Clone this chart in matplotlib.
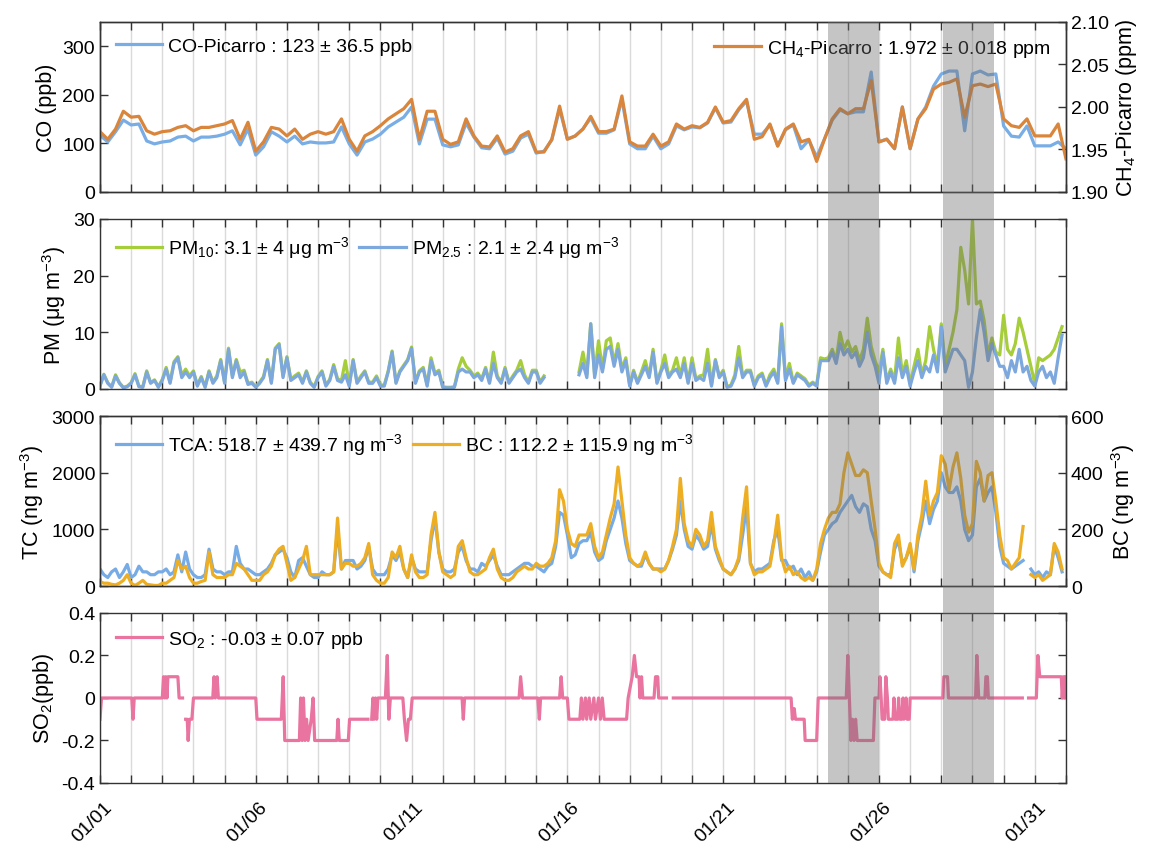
import numpy as np
import matplotlib
matplotlib.use('Agg')
import matplotlib.pyplot as plt
from matplotlib.patches import Rectangle
from matplotlib.ticker import FormatStrFormatter
from matplotlib.transforms import blended_transform_factory, ScaledTranslation

plt.rcParams['font.family'] = ['Liberation Sans', 'DejaVu Sans']
plt.rcParams['mathtext.default'] = 'regular'
plt.rcParams['axes.unicode_minus'] = False

nan = np.nan

# CO (ppb) and CH4 (ppm), 6-hourly from 01/01 00:00
co = [117, 103, 124, 148, 138, 140, 105, 99, 103, 105, 113, 115, 105, 113, 113, 115,
      119, 126, 97, 130, 76, 93, 124, 115, 103, 115, 99, 103, 101, 101, 103, 134,
      99, 76, 103, 109, 119, 134, 144, 154, 175, 99, 150, 150, 97, 93, 97, 142,
      113, 91, 89, 111, 78, 84, 111, 119, 80, 84, 107, 171, 109, 115, 130, 152,
      121, 121, 128, 191, 99, 89, 89, 115, 89, 99, 136, 128, 134, 132, 142, 173,
      142, 144, 169, 187, 119, 119, 138, 95, 128, 138, 89, 107, 72, 109, 148, 169,
      161, 165, 165, 247, 103, 109, 89, 175, 89, 150, 175, 218, 243, 249, 249, 126,
      243, 249, 241, 243, 136, 115, 113, 136, 95, 95, 95, 103, 89]
ch4 = [1.971, 1.962, 1.974, 1.995, 1.988, 1.989, 1.972, 1.968, 1.971, 1.972, 1.976, 1.978,
       1.972, 1.976, 1.976, 1.978, 1.980, 1.984, 1.962, 1.982, 1.948, 1.959, 1.976, 1.974,
       1.966, 1.974, 1.962, 1.968, 1.971, 1.968, 1.971, 1.986, 1.962, 1.948, 1.966, 1.971,
       1.978, 1.986, 1.992, 1.998, 2.009, 1.962, 1.995, 1.995, 1.962, 1.956, 1.959, 1.986,
       1.966, 1.954, 1.953, 1.966, 1.947, 1.951, 1.966, 1.971, 1.947, 1.947, 1.962, 2.001,
       1.962, 1.966, 1.974, 1.989, 1.971, 1.971, 1.974, 2.013, 1.959, 1.954, 1.954, 1.968,
       1.954, 1.959, 1.980, 1.974, 1.978, 1.976, 1.982, 2.000, 1.982, 1.984, 1.998, 2.009,
       1.962, 1.965, 1.980, 1.954, 1.974, 1.980, 1.959, 1.962, 1.936, 1.962, 1.986, 1.998,
       1.992, 1.998, 1.998, 2.031, 1.959, 1.962, 1.951, 2.000, 1.951, 1.986, 1.998, 2.021,
       2.027, 2.029, 2.033, 1.988, 2.025, 2.027, 2.024, 2.027, 1.986, 1.978, 1.976, 1.986,
       1.966, 1.966, 1.966, 1.980, 1.939]

# PM (ug m-3), 3-hourly, one row per day
pm10 = [
    0.6, 2.6, 1.1, 0.4, 2.5, 1.1, 0.3, 0.5,
    1.1, 2.7, 0.5, 0.4, 3.2, 1.1, 1.6, 0.4,
    1.7, 3.8, 1.2, 4.8, 5.7, 2.4, 3.5, 2.3,
    3.2, 0.7, 2.2, 0.4, 3.2, 1.2, 2.3, 5.2,
    1.2, 7.2, 2.3, 5.2, 3.0, 3.3, 1.0, 1.2,
    0.4, 1.2, 2.2, 5.2, 1.2, 7.2, 8.0, 2.3,
    5.7, 1.7, 2.3, 2.8, 1.2, 3.2, 1.2, 0.4,
    2.2, 3.2, 0.7, 1.7, 4.3, 1.8, 1.5, 5.0,
    0.7, 5.2, 1.2, 2.3, 3.2, 1.2, 1.2, 2.3,
    0.7, 0.7, 3.2, 6.7, 1.2, 3.2, 4.2, 5.2,
    7.4, 1.2, 3.2, 3.8, 0.7, 5.5, 2.8, 3.3,
    0.4, 0.3, 0.3, 0.4, 3.5, 5.5, 4.0, 3.3,
    2.3, 2.8, 1.8, 3.8, 1.2, 6.5, 2.3, 1.2,
    3.8, 1.2, 2.3, 3.3, 5.0, 2.5, 1.2, 3.3,
    3.3, 1.2, 2.3, nan, nan, nan, nan, nan,
    nan, nan, nan, 3.0, 6.5, 2.5, 11.5, 2.5,
    8.5, 3.5, 8.5, 9.0, 4.5, 8.0, 3.5, 5.5,
    0.7, 3.3, 1.2, 3.0, 5.0, 2.3, 7.0, 1.2,
    3.3, 6.0, 2.3, 3.3, 5.5, 2.3, 5.5, 1.2,
    5.5, 1.8, 2.3, 2.5, 7.0, 0.7, 5.2, 2.3,
    3.3, 0.4, 0.7, 2.5, 7.5, 2.3, 3.3, 3.3,
    0.7, 2.3, 2.8, 0.7, 2.5, 3.5, 1.2, 11.5,
    1.8, 4.5, 1.2, 2.8, 2.3, 1.8, 0.7, 1.2,
    0.7, 5.5, 5.3, 5.5, 7.0, 5.0, 10.0, 7.0,
    8.5, 6.5, 7.5, 5.0, 7.0, 12.5, 7.5, 5.0,
    3.0, 7.0, 1.5, 3.5, 1.5, 9.0, 2.5, 5.0,
    1.0, 4.0, 7.0, 2.5, 5.0, 11.0, 7.0, 4.0,
    11.5, 4.0, 7.0, 10.0, 14.0, 25.0, 21.0, 15.0,
    30.0, 15.0, 15.5, 12.0, 6.0, 9.0, 6.5, 6.0,
    13.0, 7.0, 6.0, 8.0, 12.5, 10.0, 7.0, 4.0,
    1.0, 5.5, 5.0, 5.5, 6.0, 7.0, 9.0, 11.0]
pm25 = [
    0.5, 2.5, 1.0, 0.3, 2.3, 1.0, 0.2, 0.4,
    1.0, 2.5, 0.4, 0.3, 3.0, 1.0, 1.5, 0.3,
    1.5, 3.5, 1.0, 4.5, 5.5, 2.0, 3.0, 2.0,
    3.0, 0.5, 2.0, 0.3, 3.0, 1.0, 2.0, 5.0,
    1.0, 7.0, 2.0, 5.0, 2.0, 3.0, 0.8, 1.0,
    0.3, 1.0, 2.0, 5.0, 1.0, 7.0, 7.8, 2.0,
    5.5, 1.5, 2.0, 2.5, 1.0, 3.0, 1.0, 0.3,
    2.0, 3.0, 0.5, 1.5, 4.0, 1.5, 1.2, 2.5,
    0.5, 5.0, 1.0, 2.0, 3.0, 1.0, 1.0, 2.0,
    0.5, 0.5, 3.0, 6.5, 1.0, 3.0, 4.0, 5.0,
    7.2, 1.0, 3.0, 3.5, 0.5, 5.0, 2.5, 3.0,
    0.3, 0.2, 0.2, 0.3, 3.0, 3.5, 3.0, 3.0,
    2.0, 2.5, 1.5, 3.5, 1.0, 4.5, 2.0, 1.0,
    3.5, 1.0, 2.0, 3.0, 3.5, 2.0, 1.0, 3.0,
    3.0, 1.0, 2.0, nan, nan, nan, nan, nan,
    nan, nan, nan, 2.5, 4.5, 2.0, 11.5, 2.0,
    6.0, 3.0, 7.0, 7.5, 4.0, 7.0, 3.0, 5.0,
    0.5, 3.0, 1.0, 2.5, 4.0, 2.0, 6.5, 1.0,
    3.0, 4.5, 2.0, 3.0, 3.5, 2.0, 4.5, 1.0,
    4.5, 1.5, 2.0, 1.5, 4.5, 0.5, 5.0, 2.0,
    3.0, 0.3, 0.5, 2.0, 5.5, 2.0, 3.0, 3.0,
    0.5, 2.0, 2.5, 0.5, 2.0, 3.0, 1.0, 11.0,
    1.5, 3.5, 1.0, 2.5, 2.0, 1.5, 0.5, 1.0,
    0.5, 5.0, 5.0, 5.0, 6.5, 4.5, 8.0, 6.0,
    7.0, 5.5, 6.5, 4.0, 5.5, 10.0, 6.0, 4.0,
    1.0, 6.5, 1.0, 3.0, 1.0, 5.5, 2.0, 4.0,
    0.5, 3.0, 5.0, 2.0, 4.0, 3.0, 6.0, 3.0,
    11.0, 3.0, 5.0, 7.0, 7.0, 6.0, 5.0, 0.3,
    3.0, 9.0, 14.0, 10.0, 5.0, 8.0, 6.0, 4.0,
    4.0, 2.0, 5.0, 3.0, 7.0, 3.0, 4.0, 1.5,
    0.5, 3.0, 4.0, 2.0, 3.0, 1.0, 5.5, 9.5]

# total carbonaceous aerosol and black carbon (ng m-3), 3-hourly
tca = [
    300, 200, 150, 250, 300, 150, 250, 380,
    150, 200, 350, 250, 250, 200, 200, 250,
    250, 300, 200, 250, 550, 250, 600, 300,
    200, 150, 150, 200, 650, 300, 250, 250,
    200, 250, 250, 700, 400, 300, 300, 250,
    200, 200, 250, 300, 400, 550, 600, 650,
    500, 250, 150, 450, 500, 350, 200, 150,
    150, 250, 200, 200, 250, 1000, 300, 450,
    450, 450, 300, 350, 450, 700, 300, 200,
    200, 200, 300, 550, 450, 600, 300, 150,
    500, 300, 250, 250, 250, 800, 1200, 600,
    300, 250, 250, 300, 600, 700, 450, 300,
    300, 250, 400, 350, 450, 550, 350, 200,
    200, 200, 250, 300, 350, 400, 400, 350,
    350, 300, 250, 350, 400, 700, 1300, 1250,
    900, 500, 550, 750, 800, 800, 950, 600,
    450, 500, 800, 1000, 1200, 1500, 1200, 750,
    450, 400, 350, 350, 550, 400, 300, 300,
    300, 300, 450, 650, 900, 1500, 1000, 700,
    650, 900, 800, 650, 700, 1100, 650, 450,
    300, 250, 200, 300, 450, 900, 1400, 400,
    250, 300, 300, 350, 400, 800, 1000, 450,
    450, 300, 350, 200, 300, 150, 250, 100,
    250, 600, 900, 1000, 1100, 1150, 1300, 1400,
    1500, 1600, 1400, 1300, 1450, 1400, 1000, 800,
    350, 250, 200, 200, 650, 800, 400, 500,
    700, 250, 800, 1100, 1500, 1100, 1350, 1500,
    2000, 1750, 1650, 1650, 1750, 1500, 1000, 800,
    900, 1750, 1900, 1500, 1650, 1750, 1300, 700,
    400, 350, 300, 350, 400, 450, nan, 300,
    200, 250, 150, 250, 200, 700, 500, 250]
bc = [
    16, 10, 10, 6, 4, 10, 20, 40,
    10, 2, 10, 20, 6, 4, 2, 2,
    10, 10, 20, 30, 90, 60, 70, 30,
    10, 10, 16, 20, 120, 40, 30, 30,
    30, 40, 40, 80, 70, 60, 40, 20,
    20, 20, 40, 50, 70, 110, 130, 140,
    80, 20, 30, 60, 90, 140, 40, 40,
    40, 40, 40, 40, 50, 240, 60, 80,
    80, 70, 70, 80, 100, 150, 40, 20,
    10, 10, 30, 120, 100, 140, 60, 30,
    110, 50, 30, 30, 40, 180, 260, 120,
    50, 40, 30, 40, 140, 160, 100, 50,
    40, 40, 50, 60, 100, 130, 60, 30,
    20, 20, 30, 50, 60, 70, 60, 60,
    80, 70, 70, 80, 100, 160, 340, 300,
    200, 150, 140, 180, 180, 180, 220, 140,
    100, 120, 180, 240, 290, 420, 300, 180,
    100, 80, 70, 80, 120, 80, 60, 60,
    50, 60, 90, 140, 200, 380, 220, 160,
    140, 200, 180, 140, 160, 260, 140, 100,
    60, 50, 40, 60, 100, 240, 350, 80,
    40, 50, 50, 60, 70, 150, 250, 100,
    50, 70, 40, 50, 30, 20, 30, 20,
    60, 150, 200, 240, 260, 260, 290, 400,
    470, 430, 390, 390, 410, 400, 300, 200,
    80, 50, 40, 30, 150, 180, 70, 100,
    150, 60, 180, 250, 370, 250, 300, 330,
    460, 430, 340, 420, 470, 380, 250, 190,
    220, 440, 400, 300, 390, 400, 300, 180,
    100, 90, 60, 80, 100, 210, nan, 40,
    30, 40, 20, 30, 40, 150, 120, 60]

# SO2 readings: day since 01/01 and value (ppb); nan marks a data gap
so2_day = [0.00, 0.05, 1.02, 1.06, 1.10, 2.00, 2.04, 2.08, 2.11, 2.15, 2.18, 2.50, 2.54, 2.65,
           2.70, 2.75, 2.80, 2.83, 2.87, 2.95, 3.00, 3.62, 3.66, 3.70, 3.76, 3.80, 5.00, 5.04,
           5.82, 5.85, 5.88, 5.93, 6.40, 6.44, 6.49, 6.53, 6.58, 6.63, 6.68, 6.78, 6.84, 6.89,
           7.60, 7.64, 7.68, 7.97, 8.01, 8.60, 8.65, 8.72, 8.76, 8.80, 8.84, 8.88, 8.92, 9.16,
           9.22, 9.27, 9.32, 9.72, 9.77, 9.84, 9.90, 9.96, 10.02, 11.62, 11.66, 11.70, 13.45,
           13.50, 13.56, 14.05, 14.10, 14.14, 14.20, 14.25, 14.30, 14.75, 14.80, 14.85, 15.00,
           15.05, 15.40, 15.45, 15.50, 15.58, 15.62, 15.70, 15.75, 15.85, 15.90, 16.00, 16.06,
           16.12, 16.18, 16.90, 16.95, 17.08, 17.15, 17.22, 17.30, 17.33, 17.38, 17.42, 17.78,
           17.83, 17.90, 17.93, 18.18, 18.30, 18.40, 22.18, 22.22, 22.28, 22.32, 22.60, 22.63,
           23.00, 23.05, 23.95, 24.00, 24.05, 24.10, 24.15, 24.20, 24.25, 24.30, 24.82, 24.87,
           25.00, 25.03, 25.07, 25.10, 25.18, 25.22, 25.27, 25.30, 25.45, 25.48, 25.52, 25.60,
           25.63, 25.67, 25.73, 25.77, 25.80, 25.87, 25.90, 25.97, 26.00, 27.05, 27.08, 27.20,
           27.23, 28.10, 28.14, 28.20, 28.40, 28.43, 28.48, 28.51, 29.60, 29.70, 29.80, 30.05,
           30.10, 30.16, 30.85, 30.88, 30.92, 30.96, 31.00]
so2 = [-0.1, 0.0, 0.0, -0.1, 0.0, 0.0, 0.1, 0.0, 0.1, 0.0, 0.1, 0.1, 0.0, 0.0,
       nan, -0.1, -0.1, -0.2, -0.1, -0.1, 0.0, 0.0, 0.1, 0.0, 0.1, 0.0, 0.0, -0.1,
       -0.1, 0.0, 0.1, -0.2, -0.2, 0.0, -0.2, 0.0, -0.2, -0.1, -0.2, -0.1, 0.0, -0.2,
       -0.2, -0.1, -0.2, -0.2, -0.1, -0.1, nan, -0.1, 0.0, -0.1, 0.0, -0.1, 0.0, 0.0,
       0.2, -0.1, 0.0, 0.0, -0.1, -0.2, -0.1, -0.1, 0.0, 0.0, -0.1, 0.0, 0.0,
       0.1, 0.0, 0.0, -0.1, 0.0, 0.0, nan, 0.0, 0.0, 0.1, 0.0, 0.0,
       -0.1, -0.1, 0.0, -0.1, 0.0, -0.1, 0.0, -0.1, 0.0, -0.1, 0.0, -0.1,
       0.0, -0.1, -0.1, 0.0, 0.1, 0.2, 0.1, 0.1, 0.0, 0.1, 0.0, 0.0,
       0.1, 0.1, 0.0, 0.0, nan, 0.0, 0.0, -0.1, -0.05, -0.1, -0.1, -0.2,
       -0.2, 0.0, 0.0, 0.2, 0.0, -0.2, -0.1, -0.2, -0.1, -0.2, -0.2, 0.0,
       0.0, 0.1, 0.0, -0.1, -0.1, 0.1, 0.0, -0.1, -0.1, 0.0, -0.1, -0.1,
       0.0, -0.1, -0.1, 0.0, -0.1, 0.0, -0.1, -0.1, 0.0, 0.0, 0.1, 0.1,
       0.0, 0.0, 0.2, 0.0, 0.0, 0.1, 0.1, 0.0, 0.0, nan, 0.0, 0.0,
       0.2, 0.1, 0.1, 0.0, 0.1, 0.0, 0.1]

# pollution episodes (days since 01/01)
episodes = [(23.35, 25.0), (27.05, 28.7)]

date_labels = ['01/01', '01/06', '01/11', '01/16', '01/21', '01/26', '01/31']

t6 = np.arange(len(co)) * 0.25
t3 = np.arange(len(pm25)) * 0.125

c_co = '#79ade6'
c_ch4 = '#d9853b'
c_pm10 = '#a6cd3a'
c_pm25 = '#7da8dd'
c_tca = '#77abe6'
c_bc = '#edae24'
c_so2 = '#e8749f'
lw = 2.3
fs = 14

fig = plt.figure(figsize=(11.57, 8.45), dpi=100)
left, width, height = 0.0864, 0.8349, 0.2012
bottoms = [0.7716, 0.5385, 0.3053, 0.0722]
axs = [fig.add_axes([left, b, width, height]) for b in bottoms]


def style(ax, right=True):
    ax.set_xlim(0, 31)
    ax.set_xticks(np.arange(0, 32))
    ax.set_xticklabels([])
    ax.grid(axis='x', color='#dadada', lw=1)
    ax.set_axisbelow(True)
    ax.tick_params(direction='in', length=6, width=1, top=True, right=right,
                   labelsize=fs, color='#333333')
    for sp in ax.spines.values():
        sp.set_color('#333333')
        sp.set_linewidth(1)


def style_twin(ax):
    ax.tick_params(direction='in', length=6, width=1, labelsize=fs, color='#333333')
    for sp in ax.spines.values():
        sp.set_color('#333333')
        sp.set_linewidth(1)


leg_kw = dict(frameon=False, fontsize=fs, handlelength=2.4, handletextpad=0.3,
              borderaxespad=0.4)

# CO / CH4
ax = axs[0]
style(ax, right=False)
l_co, = ax.plot(t6, co, color=c_co, lw=lw)
ax.set_ylim(0, 350)
ax.set_yticks([0, 100, 200, 300])
ax.set_ylabel('CO (ppb)', fontsize=15.5)
axr = ax.twinx()
style_twin(axr)
l_ch4, = axr.plot(t6, ch4, color=c_ch4, lw=lw)
axr.set_ylim(1.9, 2.1)
axr.set_yticks([1.90, 1.95, 2.00, 2.05, 2.10])
axr.yaxis.set_major_formatter(FormatStrFormatter('%.2f'))
axr.set_ylabel('CH$_4$-Picarro (ppm)', fontsize=15.5)
ax.legend([l_co], ['CO-Picarro : 123 ± 36.5 ppb'], loc='upper left', **leg_kw)
axr.legend([l_ch4], ['CH$_4$-Picarro : 1.972 ± 0.018 ppm'], loc='upper right', **leg_kw)

# PM
ax = axs[1]
style(ax)
l_p10, = ax.plot(t3, pm10, color=c_pm10, lw=lw)
l_p25, = ax.plot(t3, pm25, color=c_pm25, lw=lw)
ax.set_ylim(0, 30)
ax.set_yticks([0, 10, 20, 30])
ax.set_ylabel('PM (μg m$^{-3}$)', fontsize=15.5)
ax.legend([l_p10, l_p25], ['PM$_{10}$: 3.1 ± 4 μg m$^{-3}$', 'PM$_{2.5}$ : 2.1 ± 2.4 μg m$^{-3}$'],
          loc='upper left', ncol=2, columnspacing=0.5, **leg_kw)

# TCA / BC
ax = axs[2]
style(ax, right=False)
l_tca, = ax.plot(t3, tca, color=c_tca, lw=lw)
ax.set_ylim(0, 3000)
ax.set_yticks([0, 1000, 2000, 3000])
ax.set_ylabel('TC (ng m$^{-3}$)', fontsize=15.5)
axr = ax.twinx()
style_twin(axr)
l_bc, = axr.plot(t3, bc, color=c_bc, lw=lw)
axr.set_ylim(0, 600)
axr.set_yticks([0, 200, 400, 600])
axr.set_ylabel('BC (ng m$^{-3}$)', fontsize=15.5)
axr.legend([l_tca, l_bc], ['TCA: 518.7 ± 439.7 ng m$^{-3}$', 'BC : 112.2 ± 115.9 ng m$^{-3}$'],
           loc='upper left', ncol=2, columnspacing=0.5, **leg_kw)

# SO2
ax = axs[3]
style(ax)
l_so2, = ax.plot(so2_day, so2, color=c_so2, lw=lw)
ax.set_ylim(-0.4, 0.4)
ax.set_yticks([-0.4, -0.2, 0, 0.2, 0.4])
ax.set_yticklabels(['-0.4', '-0.2', '0', '0.2', '0.4'])
ax.set_ylabel('SO$_2$(ppb)', fontsize=15.5)
ax.legend([l_so2], ['SO$_2$ : -0.03 ± 0.07 ppb'], loc='upper left', **leg_kw)

xlabels = ['' for _ in range(32)]
for i, s in enumerate(date_labels):
    xlabels[i * 5] = s
ax.set_xticklabels(xlabels, rotation=45, fontsize=fs)
ax.tick_params(axis='x', pad=11)
shift = ScaledTranslation(-0.08, 0, fig.dpi_scale_trans)
for lab in ax.get_xticklabels():
    lab.set_transform(lab.get_transform() + shift)

# shaded episodes spanning all panels
trans = blended_transform_factory(axs[3].transData, fig.transFigure)
y0 = bottoms[3]
y1 = bottoms[0] + height
for a, b in episodes:
    fig.add_artist(Rectangle((a, y0), b - a, y1 - y0, transform=trans,
                             facecolor='#707070', alpha=0.4, lw=0, zorder=5))

fig.savefig('out.png', dpi=100)
